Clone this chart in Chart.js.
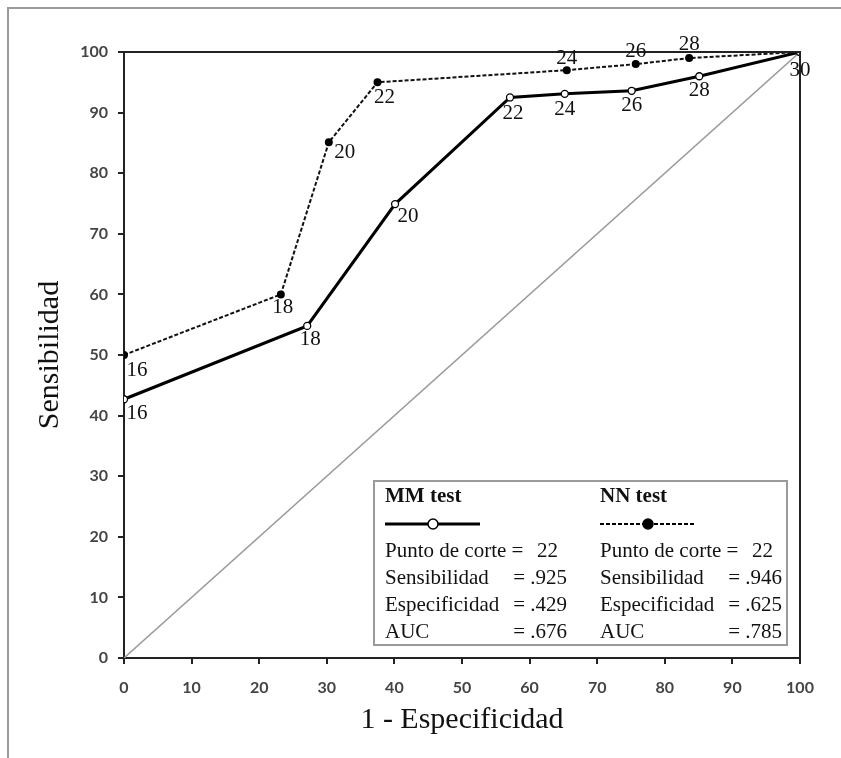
<!DOCTYPE html>
<html>
<head>
<meta charset="utf-8">
<script src="https://cdn.jsdelivr.net/npm/chart.js@4/dist/chart.umd.min.js"></script>
<style>
  html, body { margin: 0; padding: 0; background: #ffffff; }
  #wrap { width: 841px; height: 758px; }
</style>
</head>
<body>
<div id="wrap"><canvas id="c" width="841" height="758"></canvas></div>
<script>
// ---- Data ----
const cutoffs = [16, 18, 20, 22, 24, 26, 28, 30];
const mmX = [0, 27.1, 40.1, 57.1, 65.2, 75.1, 85.1, 100];
const mmY = [42.7, 54.8, 74.9, 92.5, 93.1, 93.6, 96.0, 100];
const nnX = [0, 23.2, 30.3, 37.5, 65.5, 75.7, 83.6, 100];
const nnY = [50, 60, 85.1, 95.0, 97.0, 98.0, 99.0, 100];
const diagX = [0, 100];
const diagY = [0, 100];
const axisTicks = [0, 10, 20, 30, 40, 50, 60, 70, 80, 90, 100];
const seriesNames = ['MM test', 'NN test'];
const statLabels = ['Punto de corte', 'Sensibilidad', 'Especificidad', 'AUC'];
const mmStats = ['22', '.925', '.429', '.676'];
const nnStats = ['22', '.946', '.625', '.785'];
const xTitle = '1 - Especificidad';
const yTitle = 'Sensibilidad';

const toPts = (xs, ys) => xs.map((x, i) => ({ x: x, y: ys[i] }));

// label placement (style only): [dx, dy] from the point, text centred
const mmLabelOffsets = [[13, 14], [3, 14], [13, 12], [3, 16], [0, 16], [0, 15], [0, 14], [0, 18]];
const nnLabelOffsets = [[13, 15], [2, 13], [16, 10], [7, 15], [0, -12], [0, -13], [0, -14], null];

const SERIF = '"Liberation Serif", "Times New Roman", serif';

const decorPlugin = {
  id: 'decor',
  beforeDraw(chart) {
    const ctx = chart.ctx;
    ctx.save();
    ctx.fillStyle = '#ffffff';
    ctx.fillRect(0, 0, chart.width, chart.height);
    // outer frame (left and top edges)
    ctx.strokeStyle = '#9a9a9a';
    ctx.lineWidth = 2;
    ctx.beginPath();
    ctx.moveTo(8, chart.height);
    ctx.lineTo(8, 8);
    ctx.lineTo(chart.width, 8);
    ctx.stroke();
    ctx.restore();
  },
  afterDatasetsDraw(chart) {
    const ctx = chart.ctx;
    const a = chart.chartArea;
    ctx.save();
    // top & right border of plot
    ctx.strokeStyle = '#222';
    ctx.lineWidth = 2;
    ctx.beginPath();
    ctx.moveTo(a.left, a.top);
    ctx.lineTo(a.right, a.top);
    ctx.lineTo(a.right, a.bottom);
    ctx.stroke();

    // point labels
    ctx.fillStyle = '#111';
    ctx.font = '21px ' + SERIF;
    ctx.textAlign = 'center';
    ctx.textBaseline = 'middle';
    const drawLabels = (dsIndex, offsets) => {
      const meta = chart.getDatasetMeta(dsIndex);
      meta.data.forEach((el, i) => {
        const off = offsets[i];
        if (!off) return;
        ctx.fillText(String(cutoffs[i]), el.x + off[0], el.y + off[1]);
      });
    };
    drawLabels(1, mmLabelOffsets);
    drawLabels(2, nnLabelOffsets);

    // legend box
    const bx = 374, by = 481, bw = 413, bh = 164;
    ctx.fillStyle = '#ffffff';
    ctx.fillRect(bx, by, bw, bh);
    ctx.strokeStyle = '#9a9a9a';
    ctx.lineWidth = 2;
    ctx.strokeRect(bx, by, bw, bh);

    const cols = [
      { x: 385, stats: mmStats, name: seriesNames[0], dashed: false, fill: '#fff', r1: 558, r2: 567 },
      { x: 600, stats: nnStats, name: seriesNames[1], dashed: true, fill: '#000', r1: 773, r2: 782 }
    ];
    const baselines = [557, 584, 611, 638];
    cols.forEach(c => {
      ctx.fillStyle = '#111';
      ctx.textBaseline = 'alphabetic';
      ctx.textAlign = 'left';
      ctx.font = 'bold 21px ' + SERIF;
      ctx.fillText(c.name, c.x, 502);
      // line sample
      ctx.strokeStyle = '#000';
      ctx.lineWidth = c.dashed ? 2 : 3;
      ctx.setLineDash(c.dashed ? [4, 2] : []);
      ctx.beginPath();
      ctx.moveTo(c.x, 524);
      ctx.lineTo(c.x + 95, 524);
      ctx.stroke();
      ctx.setLineDash([]);
      ctx.beginPath();
      ctx.arc(c.x + 48, 524, 5, 0, Math.PI * 2);
      ctx.fillStyle = c.fill;
      ctx.fill();
      ctx.lineWidth = 1.5;
      ctx.stroke();
      // stats
      ctx.fillStyle = '#111';
      ctx.font = '21px ' + SERIF;
      statLabels.forEach((lab, i) => {
        ctx.textAlign = 'left';
        ctx.fillText(i === 0 ? lab + ' =' : lab, c.x, baselines[i]);
        ctx.textAlign = 'right';
        if (i === 0) ctx.fillText(c.stats[i], c.r1, baselines[i]);
        else ctx.fillText('= ' + c.stats[i], c.r2, baselines[i]);
      });
    });
    ctx.restore();
  }
};

const tickFont = { family: 'Lato, "Open Sans", sans-serif', size: 16, weight: 'bold' };

new Chart(document.getElementById('c'), {
  type: 'scatter',
  data: {
    datasets: [
      {
        label: 'Diagonal',
        data: toPts(diagX, diagY),
        showLine: true,
        borderColor: '#9a9a9a',
        borderWidth: 1.5,
        pointRadius: 0,
        order: 3
      },
      {
        label: seriesNames[0],
        data: toPts(mmX, mmY),
        showLine: true,
        borderColor: '#000',
        borderWidth: 3,
        pointRadius: 3.5,
        pointBackgroundColor: '#fff',
        pointBorderColor: '#000',
        pointBorderWidth: 1.3,
        order: 1
      },
      {
        label: seriesNames[1],
        data: toPts(nnX, nnY),
        showLine: true,
        borderColor: '#111',
        borderWidth: 2,
        borderDash: [4, 2],
        pointRadius: 3,
        pointBackgroundColor: '#000',
        pointBorderColor: '#000',
        order: 2
      }
    ]
  },
  options: {
    responsive: false,
    animation: false,
    devicePixelRatio: 1,
    layout: { padding: { left: 0, top: 52, right: 41, bottom: 0 } },
    plugins: { legend: { display: false }, tooltip: { enabled: false } },
    scales: {
      x: {
        type: 'linear',
        min: 0, max: 100,
        afterBuildTicks: s => { s.ticks = axisTicks.map(v => ({ value: v })); },
        afterFit: s => { s.height = 100; },
        ticks: { font: tickFont, color: '#444', padding: 14, maxRotation: 0 },
        grid: { drawOnChartArea: false, drawTicks: true, tickLength: 6, color: '#222', lineWidth: 2 },
        border: { color: '#222', width: 2 },
        title: { display: true, text: xTitle, color: '#111', font: { family: SERIF, size: 30 }, padding: { top: 0, bottom: 20 } }
      },
      y: {
        type: 'linear',
        min: 0, max: 100,
        afterBuildTicks: s => { s.ticks = axisTicks.map(v => ({ value: v })); },
        afterFit: s => { s.width = 124; },
        ticks: { font: tickFont, color: '#444', padding: 10 },
        grid: { drawOnChartArea: false, drawTicks: true, tickLength: 6, color: '#222', lineWidth: 2 },
        border: { color: '#222', width: 2 },
        title: { display: true, text: yTitle, color: '#111', font: { family: SERIF, size: 30 }, padding: { top: 32, bottom: 0 } }
      }
    }
  },
  plugins: [decorPlugin]
});
</script>
</body>
</html>
